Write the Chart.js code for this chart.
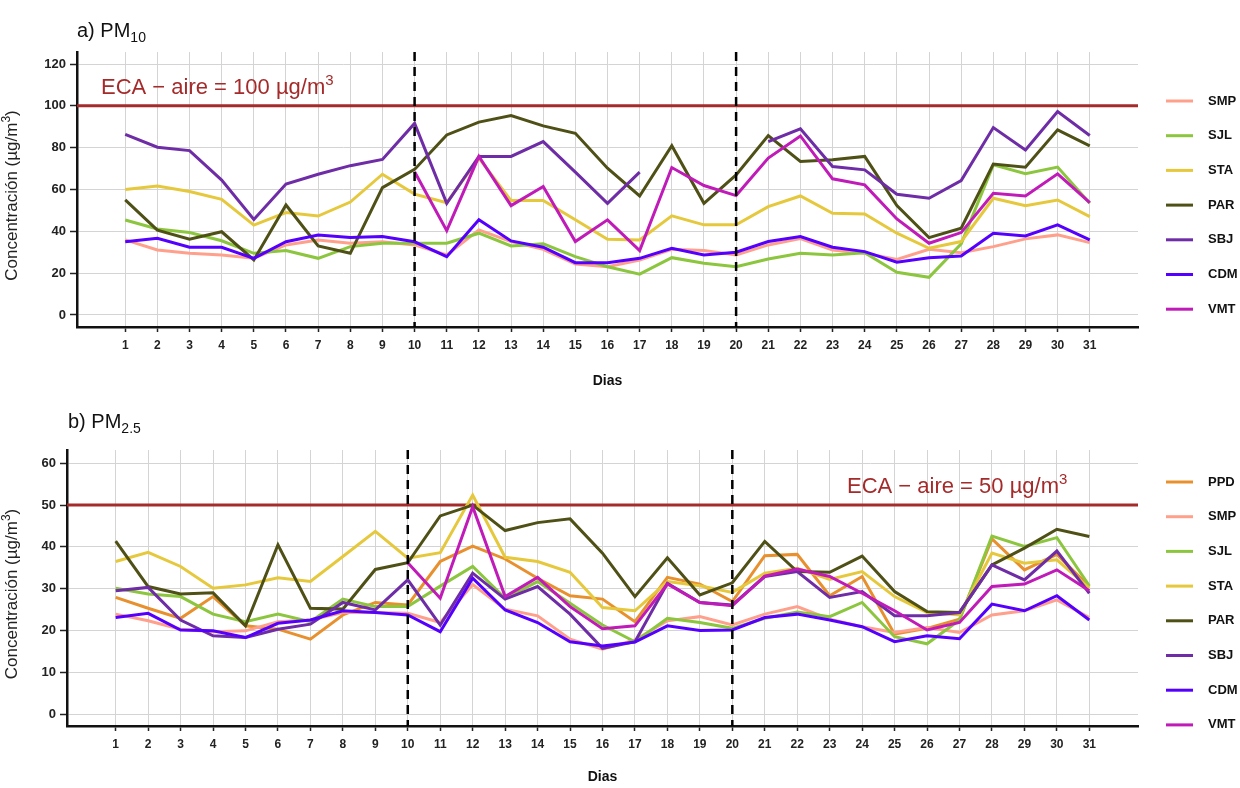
<!DOCTYPE html>
<html>
<head>
<meta charset="utf-8">
<script src="https://cdn.jsdelivr.net/npm/chart.js@4.4.1/dist/chart.umd.min.js"></script>
<style>
  body { margin: 0; background: #fff; }
  #wrap { position: relative; width: 1240px; height: 788px; }
  canvas { position: absolute; left: 0; }
</style>
</head>
<body>
<div id="wrap">
  <canvas id="pm10" width="1240" height="395" style="top:0"></canvas>
  <canvas id="pm25" width="1240" height="393" style="top:395px"></canvas>
</div>
<script>
// dias del mes
const days = [1,2,3,4,5,6,7,8,9,10,11,12,13,14,15,16,17,18,19,20,21,22,23,24,25,26,27,28,29,30,31];

// a) PM10
const pm10_SMP = [35.9,31.1,29.5,28.7,27.1,33.5,35.9,34.3,35.0,33.5,28.7,40.7,35.1,31.4,24.4,23.1,26.3,31.4,30.8,28.7,33.5,36.5,31.1,29.5,26.6,31.4,29.8,32.7,36.4,38.3,34.6];
const pm10_SJL = [45.4,41.1,39.4,35.5,29.5,30.8,27.1,32.7,34.3,34.3,34.3,39.1,33.0,34.0,27.9,23.1,19.5,27.4,24.7,23.1,26.8,29.5,28.7,29.8,20.4,18.0,34.0,71.8,67.5,70.7,53.4];
const pm10_STA = [60.0,61.7,59.0,55.3,43.0,49.0,47.3,54.0,67.3,57.8,53.7,75.0,54.7,54.7,45.5,36.2,35.9,47.4,43.1,43.1,51.8,56.9,48.6,48.3,39.1,31.9,35.1,55.8,52.2,55.0,47.0];
const pm10_PAR = [55.0,40.6,36.2,39.8,26.3,52.6,33.0,29.5,60.9,69.6,86.1,92.2,95.4,90.4,86.9,70.2,56.9,80.9,53.4,67.0,85.8,73.4,74.2,75.8,52.3,37.0,41.5,72.2,70.7,88.5,80.9];
const pm10_SBJ = [86.4,80.2,78.6,64.5,45.7,62.6,67.3,71.4,74.4,91.6,53.4,75.8,75.8,82.9,68.3,53.4,68.3,null,null,null,82.9,89.0,71.0,69.4,57.7,55.8,64.3,89.6,78.9,97.3,85.8];
const pm10_CDM = [35.0,36.7,32.4,32.4,27.1,35.0,38.2,37.0,37.5,35.0,27.9,45.5,35.4,32.4,25.0,25.0,27.1,31.9,28.7,30.0,35.1,37.5,32.4,30.3,25.2,27.4,28.2,39.1,37.8,43.1,35.9];
const pm10_VMT = [null,null,null,null,null,null,null,null,null,68.5,40.3,75.8,52.3,61.4,35.1,45.5,30.8,70.5,61.9,57.1,75.0,85.6,65.1,62.2,45.9,34.3,39.4,58.2,56.9,67.5,53.7];

// b) PM2.5
const pm25_PPD = [27.9,25.3,22.9,28.1,21.1,20.3,17.9,23.7,26.7,26.1,36.5,40.2,37.1,32.5,28.3,27.5,22.1,32.7,31.1,26.9,37.9,38.2,28.3,32.9,19.1,20.5,22.7,41.9,34.5,38.2,30.5];
const pm25_SMP = [23.9,22.3,20.3,19.7,19.9,22.1,22.5,24.3,24.3,24.1,21.9,31.0,25.1,23.5,17.9,15.5,17.7,22.3,23.3,21.3,23.9,25.7,22.7,20.9,19.5,20.7,19.5,23.7,24.7,27.3,23.1];
const pm25_SJL = [30.1,28.7,28.1,23.9,22.1,23.9,22.1,27.5,25.7,25.7,30.6,35.3,27.7,31.7,26.5,21.3,17.3,22.9,21.9,20.5,22.9,24.4,23.3,26.7,18.5,16.8,22.5,42.6,40.1,42.2,30.7];
const pm25_STA = [36.5,38.7,35.3,30.1,30.9,32.6,31.7,37.7,43.7,37.3,38.6,52.4,37.5,36.5,33.9,25.5,24.7,31.7,30.7,29.1,33.7,34.9,32.2,34.1,28.1,24.3,23.7,38.5,36.1,36.9,30.1];
const pm25_PAR = [41.4,30.5,28.7,29.0,21.1,40.5,25.3,25.1,34.6,36.2,47.4,50.0,43.9,45.8,46.7,38.5,28.1,37.4,28.5,31.4,41.3,34.1,33.9,37.8,29.3,24.5,24.3,35.7,39.7,44.2,42.5];
const pm25_SBJ = [29.5,30.3,22.5,18.7,18.3,20.3,21.5,26.7,24.9,32.1,21.3,33.7,27.5,30.5,23.9,15.7,17.3,31.3,26.7,26.1,32.9,34.1,27.9,29.3,23.5,23.5,24.3,35.7,32.1,39.0,28.9];
const pm25_CDM = [23.1,24.1,20.1,19.9,18.3,21.7,22.5,24.7,24.3,23.7,19.7,32.5,24.9,21.9,17.3,16.3,17.2,21.1,20.0,20.1,23.1,23.9,22.5,20.9,17.3,18.7,18.0,26.3,24.7,28.3,22.5];
const pm25_VMT = [null,null,null,null,null,null,null,null,null,36.2,27.7,49.6,28.1,32.7,25.7,20.4,21.1,31.1,26.7,25.9,33.0,34.7,32.9,28.9,24.7,20.1,21.9,30.5,31.1,34.5,29.5];

const pm10Ticks = [0,20,40,60,80,100,120];
const pm25Ticks = [0,10,20,30,40,50,60];
const eca10 = 100;
const eca25 = 50;
const periodLines = [10, 20];

const colores = {
  PPD: '#e8902e', SMP: '#ffa08c', SJL: '#8cc63e', STA: '#e6c83c',
  PAR: '#4e5016', SBJ: '#6e2ca6', CDM: '#5500ff', VMT: '#c01ab8'
};

const FONT = '"Liberation Sans", Arial, sans-serif';

function serie(label, arr, i, n) {
  return {
    label: label,
    data: days.map((d, k) => ({ x: d, y: arr[k] })),
    borderColor: colores[label],
    backgroundColor: colores[label],
    borderWidth: 3,
    pointRadius: 0,
    tension: 0,
    spanGaps: false,
    order: n - i
  };
}

// texto con sub/superindices
function rich(ctx, x, y, parts, align) {
  let w = 0;
  parts.forEach(p => { ctx.font = p[1]; w += ctx.measureText(p[0]).width; });
  let cx = align === 'center' ? x - w / 2 : x;
  ctx.textAlign = 'left';
  parts.forEach(p => {
    ctx.font = p[1];
    ctx.fillText(p[0], cx, y + (p[2] || 0));
    cx += ctx.measureText(p[0]).width;
  });
}

function makeChart(id, series, cfg) {
  const n = series.length;
  const datasets = series.map((s, i) => serie(s[0], s[1], i, n));

  const deco = {
    id: 'deco' + id,
    beforeDatasetsDraw(chart) {
      const ctx = chart.ctx, a = chart.chartArea, y = chart.scales.y.getPixelForValue(cfg.eca);
      ctx.save();
      ctx.strokeStyle = '#a52a2a';
      ctx.lineWidth = 3;
      ctx.beginPath();
      ctx.moveTo(a.left, y);
      ctx.lineTo(a.right, y);
      ctx.stroke();
      ctx.restore();
    },
    afterDatasetsDraw(chart) {
      const ctx = chart.ctx, a = chart.chartArea;
      ctx.save();
      ctx.strokeStyle = '#000';
      ctx.lineWidth = 2.5;
      ctx.setLineDash([9, 6]);
      periodLines.forEach(d => {
        const x = chart.scales.x.getPixelForValue(d);
        ctx.beginPath();
        ctx.moveTo(x, a.top);
        ctx.lineTo(x, a.bottom);
        ctx.stroke();
      });
      ctx.restore();
    },
    afterDraw(chart) {
      const ctx = chart.ctx, a = chart.chartArea;
      ctx.save();
      ctx.textBaseline = 'alphabetic';
      // titulo del panel
      ctx.fillStyle = '#111';
      rich(ctx, cfg.titleX, cfg.titleY, [[cfg.title, '20px ' + FONT], [cfg.sub, '14px ' + FONT, 5]]);
      // etiqueta ECA
      ctx.fillStyle = '#a52a2a';
      rich(ctx, cfg.ecaX, cfg.ecaY, [['ECA \u2212 aire = ' + cfg.eca + ' \u00b5g/m', '22px ' + FONT], ['3', '15px ' + FONT, -9]]);
      // titulo eje y
      ctx.fillStyle = '#222';
      ctx.save();
      ctx.translate(17, (a.top + a.bottom) / 2 + 6);
      ctx.rotate(-Math.PI / 2);
      rich(ctx, 0, 0, [['Concentraci\u00f3n (\u00b5g/m', '17px ' + FONT], ['3', '12px ' + FONT, -7], [')', '17px ' + FONT]], 'center');
      ctx.restore();
      // titulo eje x
      ctx.font = 'bold 14px ' + FONT;
      ctx.textAlign = 'center';
      ctx.textBaseline = 'middle';
      ctx.fillStyle = '#111';
      ctx.fillText('Dias', (a.left + a.right) / 2, cfg.diasY);
      // leyenda
      chart.data.datasets.forEach((ds, i) => {
        const ly = cfg.legY + i * 34.7;
        ctx.strokeStyle = ds.borderColor;
        ctx.lineWidth = 3;
        ctx.beginPath();
        ctx.moveTo(1166, ly);
        ctx.lineTo(1193, ly);
        ctx.stroke();
        ctx.font = 'bold 13px ' + FONT;
        ctx.textAlign = 'left';
        ctx.fillStyle = '#111';
        ctx.fillText(ds.label, 1208, ly);
      });
      ctx.restore();
    }
  };

  return new Chart(document.getElementById(id).getContext('2d'), {
    type: 'line',
    data: { datasets: datasets },
    options: {
      responsive: false,
      animation: false,
      devicePixelRatio: 1,
      layout: { padding: { left: 0, right: 102, top: cfg.top, bottom: 0 } },
      plugins: { legend: { display: false }, tooltip: { enabled: false } },
      scales: {
        x: {
          type: 'linear',
          min: -0.5,
          max: 32.5,
          afterBuildTicks: s => { s.ticks = days.map(d => ({ value: d })); },
          afterFit: s => { s.height = cfg.xh; },
          ticks: {
            autoSkip: false, maxRotation: 0, padding: 6, color: '#222',
            font: { family: FONT, size: 12, weight: 'bold' },
            callback: v => v
          },
          grid: { color: '#d4d4d4', lineWidth: 1, tickColor: '#222', tickLength: 5, tickWidth: 1.5 },
          border: { color: '#111', width: 2.5 }
        },
        y: {
          min: cfg.yMin,
          max: cfg.yMax,
          afterBuildTicks: s => { s.ticks = cfg.ticks.map(v => ({ value: v })); },
          afterFit: s => { s.width = cfg.yw; },
          ticks: {
            padding: 4, color: '#222',
            font: { family: FONT, size: 13, weight: 'bold' },
            callback: v => v
          },
          grid: { color: '#d4d4d4', lineWidth: 1, tickColor: '#222', tickLength: 7, tickWidth: 1.5 },
          border: { color: '#111', width: 2.5 }
        }
      }
    },
    plugins: [deco]
  });
}

makeChart('pm10', [
  ['SMP', pm10_SMP], ['SJL', pm10_SJL], ['STA', pm10_STA], ['PAR', pm10_PAR],
  ['SBJ', pm10_SBJ], ['CDM', pm10_CDM], ['VMT', pm10_VMT]
], {
  top: 52, xh: 68, yw: 77, yMin: -5.74, yMax: 125.74, ticks: pm10Ticks, eca: eca10,
  title: 'a) PM', sub: '10', titleX: 77, titleY: 37,
  ecaX: 101, ecaY: 94, diasY: 381, legY: 101
});

makeChart('pm25', [
  ['PPD', pm25_PPD], ['SMP', pm25_SMP], ['SJL', pm25_SJL], ['STA', pm25_STA], ['PAR', pm25_PAR],
  ['SBJ', pm25_SBJ], ['CDM', pm25_CDM], ['VMT', pm25_VMT]
], {
  top: 55, xh: 62, yw: 67, yMin: -2.87, yMax: 63.18, ticks: pm25Ticks, eca: eca25,
  title: 'b) PM', sub: '2.5', titleX: 68, titleY: 33,
  ecaX: 847, ecaY: 98, diasY: 382, legY: 87
});
</script>
</body>
</html>
